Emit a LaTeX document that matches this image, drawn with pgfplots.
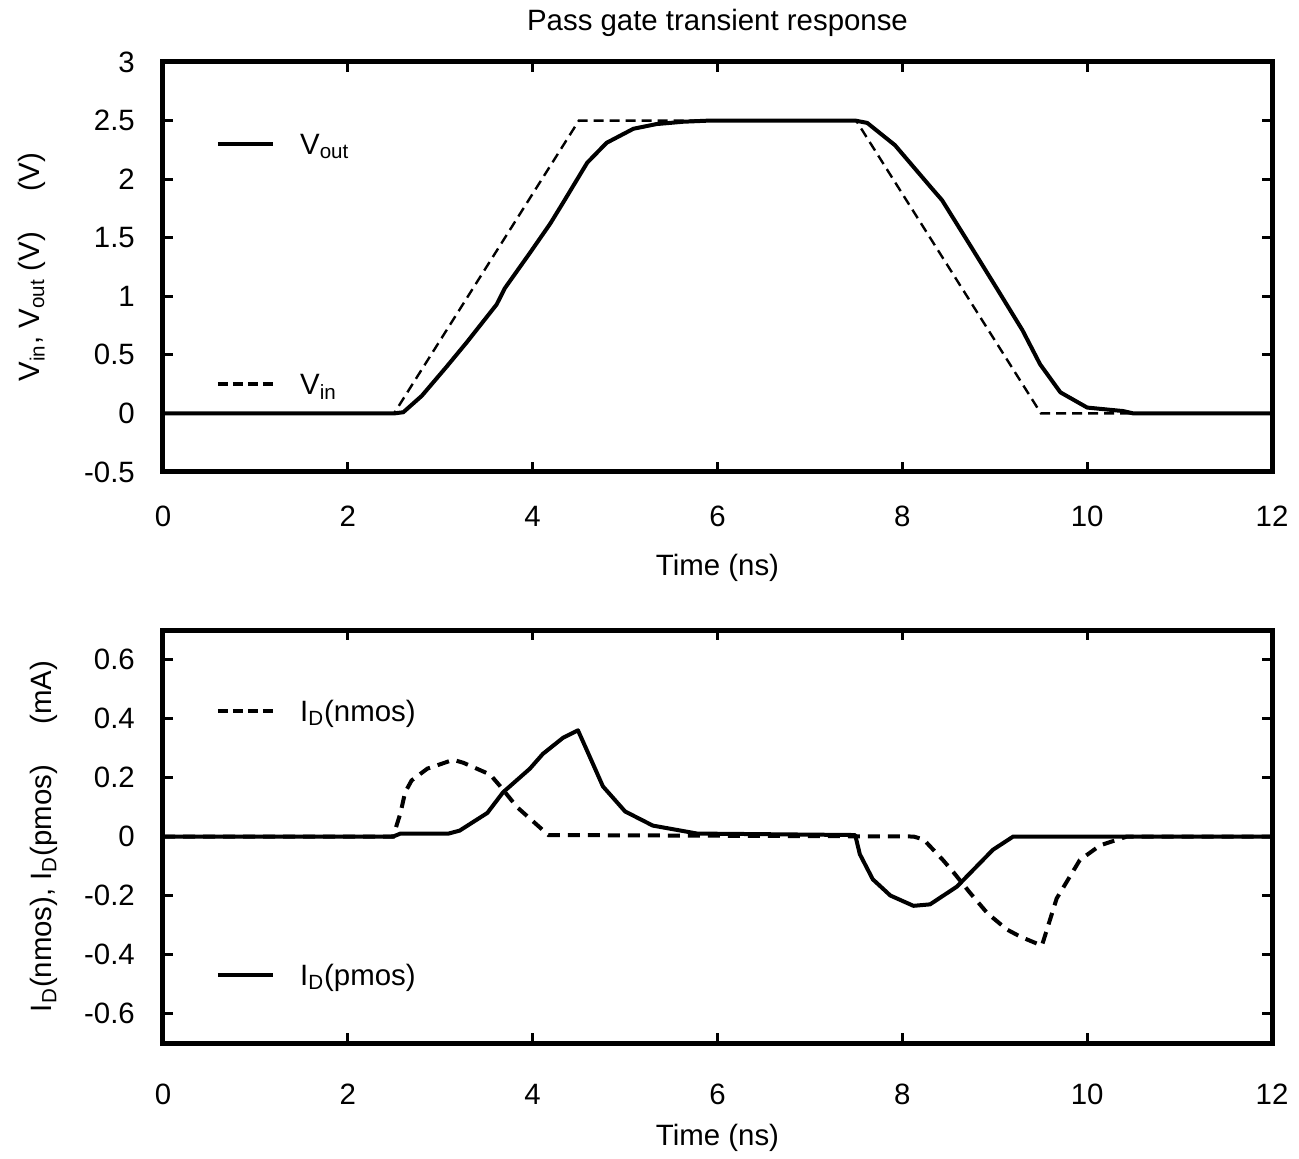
\documentclass[border=0pt]{standalone}
\usepackage{fontspec}
\setmainfont{Liberation Sans}
\usepackage{pgfplots}
\pgfplotsset{compat=1.18}

\tikzset{
  solidline/.style={black, line width=2pt, line join=round},
}
\pgfplotsset{
  passgate/.style={
    scale only axis, width=554.5pt, height=205pt,
    xmin=0, xmax=12,
    xtick={0,2,4,6,8,10,12},
    xticklabels={0,2,4,6,8,10,12},
    tick align=inside, tick pos=both,
    xticklabel pos=bottom, yticklabel pos=left,
    axis line style={line width=2.5pt},
    major tick length=5pt,
    tick style={black, line width=1.5pt},
    yticklabel style={xshift=-9pt},
    xlabel={Time (ns)},
    clip=false,
  },
}

\begin{document}
\fontsize{14.7}{17}\selectfont
\begin{tikzpicture}

% ---- voltages ----
\begin{axis}[passgate,
    at={(0,0)}, anchor=south west,
    ymin=-0.5, ymax=3,
    ytick={-0.5,0,0.5,1,1.5,2,2.5,3},
    yticklabels={-0.5,0,0.5,1,1.5,2,2.5,3},
    xticklabel style={yshift=-12pt},
    xlabel style={at={(axis description cs:0.5,0)}, anchor=center, yshift=-48pt},
    ylabel={V\textsubscript{in}, V\textsubscript{out} (V)\hspace{20pt}(V)},
    ylabel style={at={(axis description cs:-0.118,0.5)}, anchor=center},
    title={Pass gate transient response},
    title style={at={(axis description cs:0.5,1)}, anchor=center, yshift=13.5pt},
]
\addplot[black, line width=1.2pt, dash pattern=on 5pt off 3pt] coordinates {
  (0,0) (2.5,0) (4.5,2.5) (7.5,2.5) (9.5,0) (12,0)
};
\addplot[solidline] coordinates {
  (0,0) (2.5,0) (2.6,0.01) (2.8,0.15) (3.07,0.40) (3.29,0.61) (3.61,0.93)
  (3.70,1.07) (3.97,1.37) (4.19,1.62) (4.33,1.80) (4.59,2.14) (4.80,2.31)
  (5.09,2.43) (5.34,2.47) (5.63,2.49) (5.92,2.50) (7.49,2.50) (7.62,2.48)
  (7.92,2.29) (8.32,1.92) (8.43,1.82) (8.73,1.44) (9.02,1.07) (9.30,0.71)
  (9.49,0.42) (9.71,0.18) (10.0,0.05) (10.39,0.02) (10.5,0) (12,0)
};
% legend
\draw[solidline] (axis cs:0.595,2.30) -- (axis cs:1.19,2.30);
\node[anchor=base west, inner sep=0pt, yshift=-5.3pt] at (axis cs:1.48,2.30) {V\textsubscript{out}};
\draw[black, line width=2pt, dash pattern=on 5pt off 2.5pt] (axis cs:0.595,0.255) -- (axis cs:1.19,0.255);
\node[anchor=base west, inner sep=0pt, yshift=-5.3pt] at (axis cs:1.48,0.255) {V\textsubscript{in}};
\end{axis}

% ---- currents ----
\begin{axis}[passgate,
    at={(0,-285.5pt)}, anchor=south west,
    height=206.5pt,
    ymin=-0.7, ymax=0.7,
    ytick={-0.6,-0.4,-0.2,0,0.2,0.4,0.6},
    yticklabels={-0.6,-0.4,-0.2,0,0.2,0.4,0.6},
    xticklabel style={yshift=-15.5pt},
    xlabel style={at={(axis description cs:0.5,0)}, anchor=center, yshift=-47.5pt},
    ylabel={I\textsubscript{D}(nmos), I\textsubscript{D}(pmos)\hspace{20pt}(mA)},
    ylabel style={at={(axis description cs:-0.107,0.5)}, anchor=center},
]
\addplot[black, line width=2pt, dash pattern=on 6pt off 4pt] coordinates {
  (0,0) (2.49,0) (2.57,0.08) (2.62,0.15) (2.69,0.19) (2.86,0.23) (3.14,0.26)
  (3.25,0.25) (3.54,0.21) (3.65,0.17) (3.83,0.10) (4.17,0.005) (8.12,0)
  (8.23,-0.01) (8.44,-0.08) (8.55,-0.12) (8.73,-0.19) (8.92,-0.26)
  (9.13,-0.315) (9.28,-0.34) (9.51,-0.37) (9.67,-0.21) (9.92,-0.08)
  (10.14,-0.03) (10.43,0) (12,0)
};
\addplot[solidline] coordinates {
  (0,0) (2.49,0) (2.57,0.01) (3.09,0.01) (3.21,0.02) (3.51,0.08) (3.68,0.15)
  (3.97,0.23) (4.11,0.28) (4.33,0.335) (4.49,0.36) (4.59,0.29) (4.76,0.17)
  (5.0,0.085) (5.30,0.037) (5.78,0.01) (7.49,0.005) (7.54,-0.06) (7.68,-0.145)
  (7.87,-0.20) (8.12,-0.235) (8.30,-0.23) (8.59,-0.17) (8.98,-0.045)
  (9.2,0) (12,0)
};
% legend
\draw[black, line width=2pt, dash pattern=on 5pt off 2.5pt] (axis cs:0.595,0.427) -- (axis cs:1.19,0.427);
\node[anchor=base west, inner sep=0pt, yshift=-5.3pt] at (axis cs:1.48,0.427) {I\textsubscript{D}(nmos)};
\draw[solidline] (axis cs:0.595,-0.468) -- (axis cs:1.19,-0.468);
\node[anchor=base west, inner sep=0pt, yshift=-5.3pt] at (axis cs:1.48,-0.468) {I\textsubscript{D}(pmos)};
\end{axis}

\pgfresetboundingbox
\useasboundingbox (-81.5pt,-343.5pt) rectangle (568pt,236pt);
\end{tikzpicture}
\end{document}
